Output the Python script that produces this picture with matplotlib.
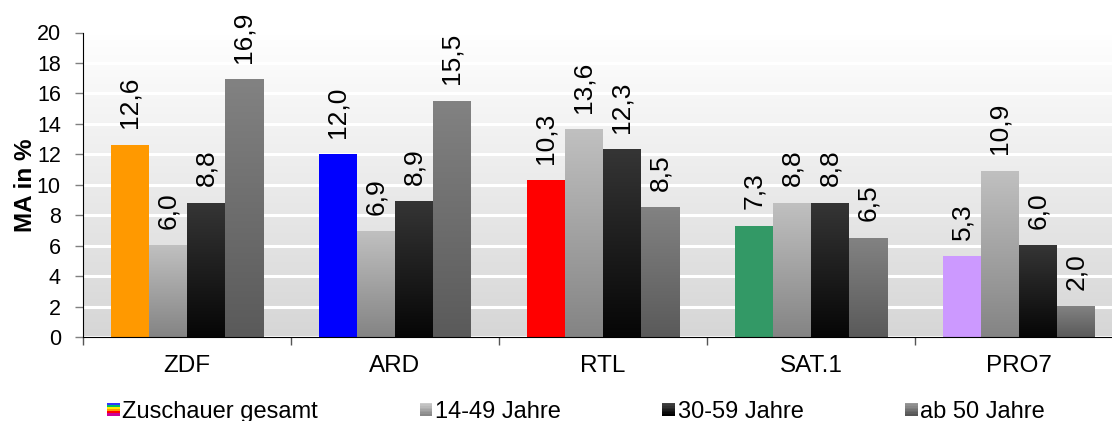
import numpy as np
import matplotlib
matplotlib.use("Agg")
import matplotlib.pyplot as plt
from matplotlib.colors import LinearSegmentedColormap, to_rgb
from matplotlib.legend_handler import HandlerBase
from matplotlib.patches import Rectangle

plt.rcParams['font.family'] = ['Liberation Sans', 'DejaVu Sans']

# ---- data ----
channels = ["ZDF", "ARD", "RTL", "SAT.1", "PRO7"]
series_names = ["Zuschauer gesamt", "14-49 Jahre", "30-59 Jahre", "ab 50 Jahre"]
gesamt = [12.6, 12.0, 10.3, 7.3, 5.3]
j14_49 = [6.0, 6.9, 13.6, 8.8, 10.9]
j30_59 = [8.8, 8.9, 12.3, 8.8, 6.0]
ab50 = [16.9, 15.5, 8.5, 6.5, 2.0]
channel_colors = ["#ff9900", "#0000ff", "#ff0000", "#339966", "#cc99ff"]
yticks = list(range(0, 21, 2))

# gradient definitions (top colour, bottom colour)
grad_14 = ("#c0c0c0", "#848484")
grad_30 = ("#353535", "#060606")
grad_50 = ("#828282", "#5a5a5a")
rainbow = ["#3333ff", "#00bb66", "#ffee00", "#ff9900", "#ff0000", "#cc0099"]

fig = plt.figure(figsize=(11.12, 4.21), dpi=100)
ax = fig.add_axes([83/1112, 84/421, 1040/1112, 304.5/421])

x = np.arange(len(channels)) + 0.5
w = 38/208
offsets = np.array([-1.5, -0.5, 0.5, 1.5]) * w

# background gradient
bg = np.linspace(0, 1, 256).reshape(-1, 1)
bg_cmap = LinearSegmentedColormap.from_list("bg", ["#ffffff", "#d6d6d6"])
ax.imshow(bg, extent=[0, 1, 0, 1], transform=ax.transAxes, cmap=bg_cmap,
          aspect='auto', zorder=0.1, interpolation='bilinear')

ax.set_axisbelow(True)
ax.yaxis.grid(True, color="white", linewidth=2.2)

def grad_bars(vals, pos, grad, solid):
    bars = ax.bar(pos, vals, width=w, color=solid, zorder=2, linewidth=0)
    cmap = LinearSegmentedColormap.from_list("g", [grad[0], grad[1]])
    for b in bars:
        x0, bw, h = b.get_x(), b.get_width(), b.get_height()
        g = np.linspace(0, 1, 200).reshape(-1, 1)
        ax.imshow(g, extent=[x0, x0 + bw, 0, h], cmap=cmap, aspect='auto',
                  zorder=2.5, interpolation='bilinear')
    return bars

all_series = []
b0 = ax.bar(x + offsets[0], gesamt, width=w, color=channel_colors, zorder=2, linewidth=0)
all_series.append((b0, gesamt))
b1 = grad_bars(j14_49, x + offsets[1], grad_14, grad_14[1])
all_series.append((b1, j14_49))
b2 = grad_bars(j30_59, x + offsets[2], grad_30, grad_30[1])
all_series.append((b2, j30_59))
b3 = grad_bars(ab50, x + offsets[3], grad_50, grad_50[1])
all_series.append((b3, ab50))

for bars, vals in all_series:
    for b, v in zip(bars, vals):
        ax.annotate(f"{v:.1f}".replace(".", ","),
                    (b.get_x() + b.get_width()/2, v),
                    xytext=(0, 12), textcoords="offset points",
                    rotation=90, ha="center", va="bottom", fontsize=19,
                    zorder=5, annotation_clip=False)

ax.set_xlim(0, 5)
ax.set_ylim(0, 20)
ax.set_yticks(yticks)
ax.set_yticklabels([str(t) for t in yticks], fontsize=15.5)
ax.tick_params(axis='y', length=6, width=1, color="#808080", pad=10)
ax.set_xticks(x)
ax.set_xticklabels(channels, fontsize=17.5)
ax.set_xticks(np.arange(0, 6), minor=True)
ax.tick_params(axis='x', which='major', length=0, pad=13)
ax.tick_params(axis='x', which='minor', length=6, width=1, color="#555555")
for s in ["top", "right"]:
    ax.spines[s].set_visible(False)
ax.spines["left"].set_color("black")
ax.spines["bottom"].set_color("black")
ax.set_ylabel("MA in %", fontsize=17.5, fontweight="bold", labelpad=0)

# legend with gradient squares
class GradHandler(HandlerBase):
    def __init__(self, colors):
        super().__init__()
        self.colors = colors
    def create_artists(self, legend, orig_handle, xdescent, ydescent,
                       width, height, fontsize, trans):
        n = len(self.colors)
        s = height
        y0 = -ydescent
        arts = []
        for i, c in enumerate(self.colors):
            r = Rectangle((-xdescent, y0 + s - (i + 1) * s / n), s, s / n + 0.3,
                          facecolor=c, edgecolor='none', transform=trans)
            arts.append(r)
        return arts

def ramp(c_top, c_bot, n=8):
    a, b = np.array(to_rgb(c_top)), np.array(to_rgb(c_bot))
    return [tuple(a + (b - a) * t) for t in np.linspace(0, 1, n)]

handles = [Rectangle((0, 0), 1, 1) for _ in range(4)]
hmap = {handles[0]: GradHandler(rainbow),
        handles[1]: GradHandler(ramp("#cccccc", "#888888")),
        handles[2]: GradHandler(ramp("#444444", "#000000")),
        handles[3]: GradHandler(ramp("#999999", "#555555"))}
fig.legend(handles, series_names, handler_map=hmap, ncol=4, frameon=False,
           loc="center left", bbox_to_anchor=(107/1112, 9/421),
           fontsize=17, handlelength=0.45, handleheight=0.45,
           handletextpad=0.2, columnspacing=4.3, borderpad=0, borderaxespad=0)

fig.savefig("out.png", dpi=100)
